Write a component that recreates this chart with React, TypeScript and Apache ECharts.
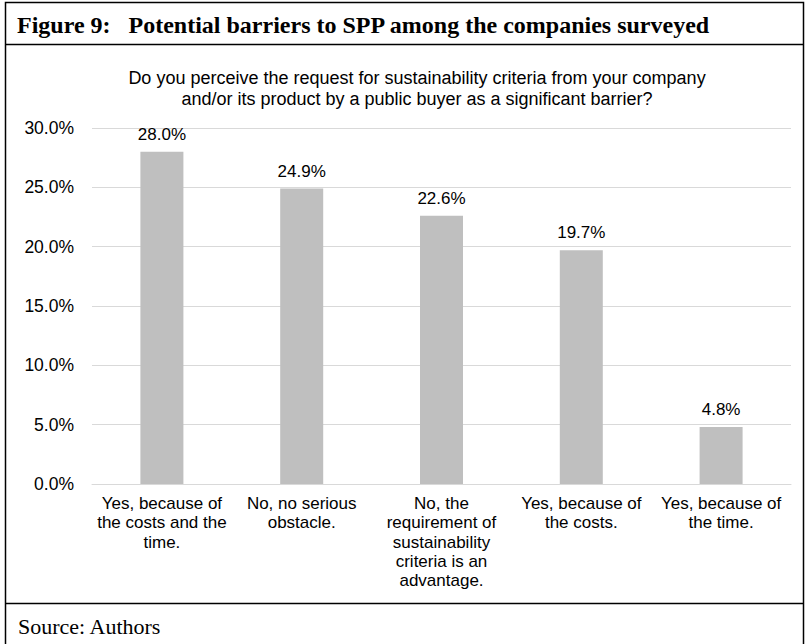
import React, { useEffect, useRef } from "react";
import * as echarts from "echarts";

const categories: string[] = [
  "Yes, because of\nthe costs and the\ntime.",
  "No, no serious\nobstacle.",
  "No, the\nrequirement of\nsustainability\ncriteria is an\nadvantage.",
  "Yes, because of\nthe costs.",
  "Yes, because of\nthe time.",
];
const values: number[] = [28.0, 24.9, 22.6, 19.7, 4.8];
const yTicks = { min: 0, max: 30, interval: 5 };

const figureTitle = "Figure 9:   Potential barriers to SPP among the companies surveyed";
const question =
  "Do you perceive the request for sustainability criteria from your company\nand/or its product by a public buyer as a significant barrier?";
const source = "Source: Authors";

export default function App() {
  const ref = useRef<HTMLDivElement>(null);
  useEffect(() => {
    if (!ref.current) return;
    const chart = echarts.init(ref.current, null, { renderer: "svg" });
    const sans = "'Liberation Sans', Arial, sans-serif";
    const serif = "'Liberation Serif', 'Times New Roman', serif";
    chart.setOption({
      animation: false,
      backgroundColor: "#ffffff",
      title: {
        text: question,
        left: 412,
        textAlign: "center",
        top: 62,
        textStyle: {
          fontFamily: sans,
          fontSize: 18,
          fontWeight: "normal",
          color: "#000",
          lineHeight: 21,
        },
      },
      grid: { left: 92, right: 15, top: 128, height: 356, containLabel: false },
      xAxis: {
        type: "category",
        data: categories,
        axisLine: { show: true, lineStyle: { color: "#d9d9d9", width: 1 } },
        axisTick: { show: false },
        axisLabel: {
          interval: 0,
          margin: 10,
          fontFamily: sans,
          fontSize: 17,
          color: "#000",
          lineHeight: 19.3,
          align: "center",
        },
      },
      yAxis: {
        type: "value",
        min: yTicks.min,
        max: yTicks.max,
        interval: yTicks.interval,
        axisLine: { show: false },
        axisTick: { show: false },
        splitLine: { lineStyle: { color: "#d9d9d9", width: 1 } },
        axisLabel: {
          margin: 18,
          fontFamily: sans,
          fontSize: 17.5,
          color: "#000",
          formatter: (v: number) => v.toFixed(1) + "%",
        },
      },
      series: [
        {
          type: "bar",
          data: values,
          barWidth: 43,
          itemStyle: { color: "#bfbfbf" },
          label: {
            show: true,
            position: "top",
            distance: 9,
            fontFamily: sans,
            fontSize: 17,
            color: "#000",
            formatter: (p: any) => Number(p.value).toFixed(1) + "%",
          },
        },
      ],
      graphic: [
        {
          type: "rect",
          shape: { x: 5.5, y: 2.5, width: 798, height: 660 },
          style: { fill: "none", stroke: "#000", lineWidth: 1.5 },
          silent: true,
        },
        {
          type: "line",
          shape: { x1: 5.5, y1: 44.5, x2: 803.5, y2: 44.5 },
          style: { stroke: "#000", lineWidth: 1.5 },
        },
        {
          type: "line",
          shape: { x1: 5.5, y1: 603.5, x2: 803.5, y2: 603.5 },
          style: { stroke: "#000", lineWidth: 1.5 },
        },
        {
          type: "text",
          x: 17,
          y: 37,
          style: {
            text: figureTitle,
            fontFamily: serif,
            fontSize: 24,
            fontWeight: "bold",
            fill: "#000",
            verticalAlign: "bottom",
          },
        },
        {
          type: "text",
          x: 18,
          y: 615,
          style: {
            text: source,
            fontFamily: serif,
            fontSize: 22,
            fill: "#000",
            verticalAlign: "top",
          },
        },
      ],
    });
    return () => chart.dispose();
  }, []);
  return (
    <div
      ref={ref}
      style={{ position: "absolute", left: 0, top: 0, width: 806, height: 644 }}
    />
  );
}
